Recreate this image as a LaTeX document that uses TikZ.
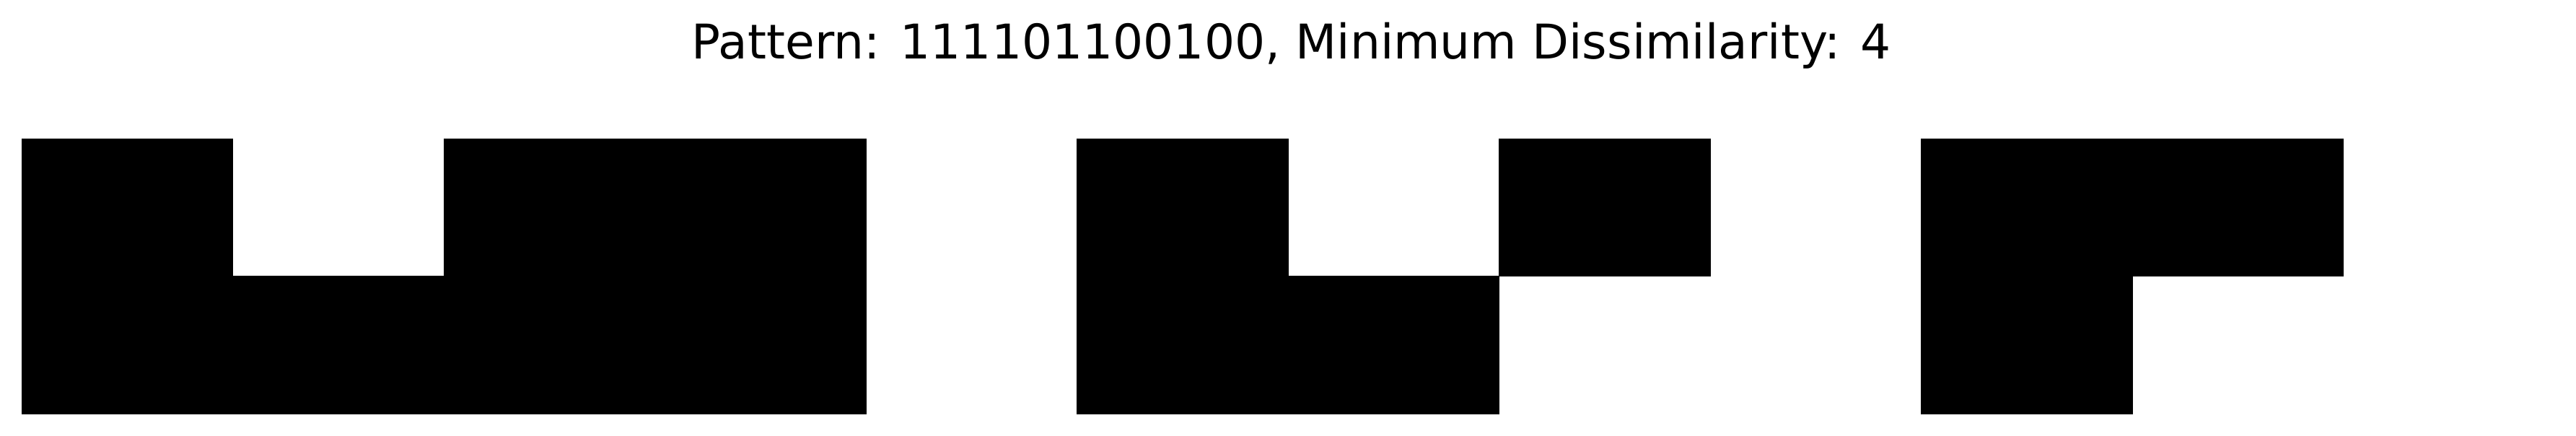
\documentclass[tikz,border=0pt]{standalone}
\usepackage{fontspec}
\setmainfont{DejaVu Sans}
\usepackage{tikz}
\usetikzlibrary{positioning}

\begin{document}
\begin{tikzpicture}[
    cell/.style={rectangle, fill=black, draw=black, line width=0.2pt, inner sep=0pt, minimum width=2.9245cm, minimum height=1.905cm, anchor=north west},
    title/.style={font=\fontsize{18.85}{23}\selectfont, anchor=base}
]

\useasboundingbox (0,0) rectangle (35.70,6.03);

% Title
\node[title] (heading) at (17.90,5.21) {Pattern: 111101100100, Minimum Dissimilarity: 4};

% Top row
\foreach \c in {0,2,3,5,7,9,10}
    \node[cell] (top-\c) at ({0.30+2.9245*\c},4.11) {};

% Bottom row
\foreach \c in {0,1,2,3,5,6,9}
    \node[cell] (bot-\c) at ({0.30+2.9245*\c},2.205) {};

\end{tikzpicture}
\end{document}
